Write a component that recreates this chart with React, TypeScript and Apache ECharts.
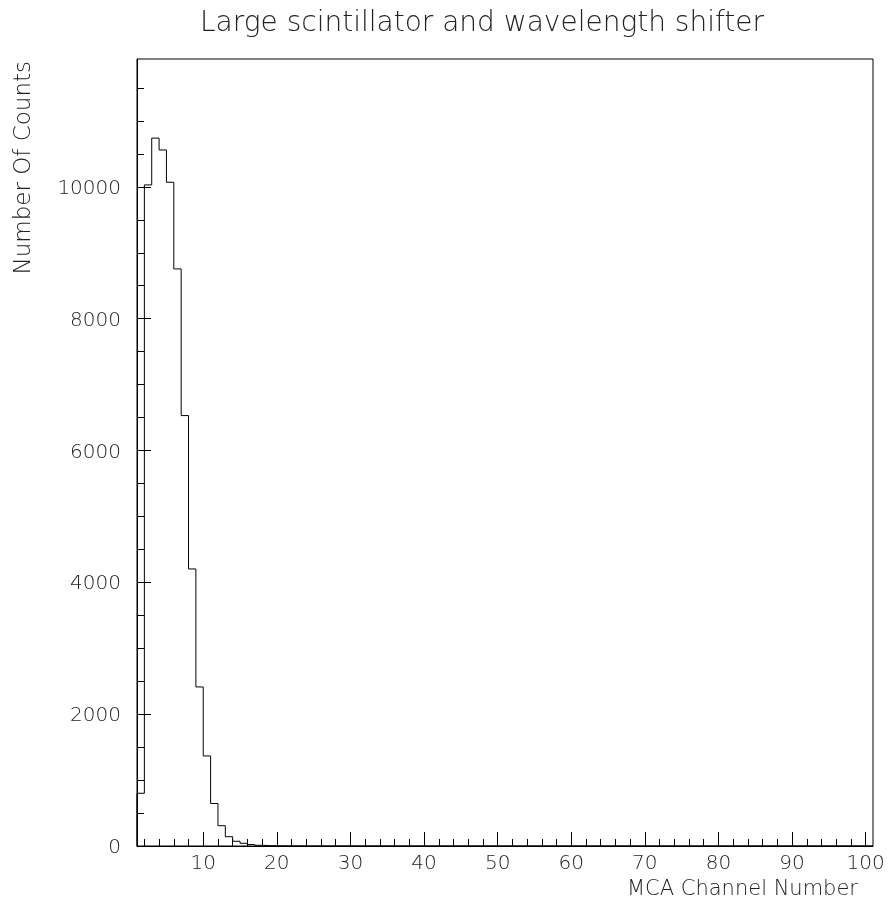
import React, { useEffect, useRef } from "react";
import * as echarts from "echarts";

const title = "Large scintillator and wavelength shifter";
const xTitle = "MCA Channel Number";
const yTitle = "Number Of Counts";

// histogram: 100 bins of width 1, from channel 1 to 101
const firstEdge = 1;
const counts = [
  800, 10030, 10740, 10560, 10070, 8755, 6530, 4203, 2413, 1366,
  645, 308, 141, 72, 41, 22, 11, 6, 3, 2,
  1, 1, 0, 0, 0, 0, 0, 0, 1, 0,
  0, 0, 0, 0, 0, 0, 0, 0, 0, 0,
  0, 0, 0, 0, 0, 0, 0, 0, 0, 0,
  0, 0, 0, 0, 0, 0, 0, 0, 0, 0,
  0, 0, 0, 0, 0, 0, 0, 0, 0, 0,
  0, 0, 0, 0, 0, 0, 0, 0, 0, 0,
  0, 0, 0, 0, 0, 0, 0, 0, 0, 0,
  0, 0, 0, 0, 0, 0, 0, 0, 0, 0,
];

const xMin = 1;
const xMax = 101;
const yMin = 0;
const yMax = 11940;

const xMajorTicks = [10, 20, 30, 40, 50, 60, 70, 80, 90, 100];
const xMinorTicks = [2, 4, 6, 8, 12, 14, 16, 18, 22, 24, 26, 28, 32, 34, 36, 38, 42, 44, 46, 48, 52, 54, 56, 58, 62, 64, 66, 68, 72, 74, 76, 78, 82, 84, 86, 88, 92, 94, 96, 98];
const yMajorTicks = [0, 2000, 4000, 6000, 8000, 10000];
const yMinorTicks = [500, 1000, 1500, 2500, 3000, 3500, 4500, 5000, 5500, 6500, 7000, 7500, 8500, 9000, 9500, 10500, 11000, 11500];

const FONT = "'DejaVu Sans'";
const TXT = "#222";

export default function App() {
  const ref = useRef<HTMLDivElement>(null);
  useEffect(() => {
    if (!ref.current) return;
    const chart = echarts.init(ref.current, null, { renderer: "svg" });
    const pts: number[][] = [[firstEdge, 0]];
    counts.forEach((c, i) => pts.push([firstEdge + i, c]));
    pts.push([firstEdge + counts.length, counts[counts.length - 1]]);

    const left = 137, right = 17, top = 59, bottom = 59;
    const plain = (v: number) => String(v);
    chart.setOption({
      animation: false,
      grid: {
        left, right, top, bottom,
        show: true,
        borderColor: "#000",
        borderWidth: 1,
        backgroundColor: "transparent",
      },
      xAxis: [
        {
          type: "value", min: xMin, max: xMax, position: "bottom",
          axisLine: { show: true, lineStyle: { color: "#000", width: 1 } },
          splitLine: { show: false },
          axisTick: { show: true, inside: true, length: 14, customValues: xMajorTicks, lineStyle: { color: "#000" } },
          axisLabel: { show: true, customValues: xMajorTicks, formatter: plain, margin: 6, color: TXT, fontFamily: FONT, fontSize: 20, fontWeight: 200 },
        },
        {
          type: "value", min: xMin, max: xMax, position: "bottom",
          axisLine: { show: false },
          splitLine: { show: false },
          axisTick: { show: true, inside: true, length: 7, customValues: xMinorTicks, lineStyle: { color: "#000" } },
          axisLabel: { show: false },
        },
      ],
      yAxis: [
        {
          type: "value", min: yMin, max: yMax, position: "left",
          axisLine: { show: true, lineStyle: { color: "#000", width: 1 } },
          splitLine: { show: false },
          axisTick: { show: true, inside: true, length: 14, customValues: yMajorTicks, lineStyle: { color: "#000" } },
          axisLabel: { show: true, customValues: yMajorTicks, formatter: plain, margin: 16, color: TXT, fontFamily: FONT, fontSize: 20, fontWeight: 200 },
        },
        {
          type: "value", min: yMin, max: yMax, position: "left",
          axisLine: { show: false },
          splitLine: { show: false },
          axisTick: { show: true, inside: true, length: 7, customValues: yMinorTicks, lineStyle: { color: "#000" } },
          axisLabel: { show: false },
        },
      ],
      series: [
        {
          type: "line",
          step: "end",
          data: pts,
          symbol: "none",
          lineStyle: { color: "#000", width: 1 },
          xAxisIndex: 0,
          yAxisIndex: 0,
          clip: true,
        },
      ],
      graphic: [
        {
          type: "text", x: 482, y: 21,
          style: { text: title, fill: TXT, font: `200 28px ${FONT}`, textAlign: "center", textVerticalAlign: "middle" },
        },
        {
          type: "text", x: 858, y: 888,
          style: { text: xTitle, fill: TXT, font: `200 21px ${FONT}`, textAlign: "right", textVerticalAlign: "middle" },
        },
        {
          type: "text", x: 22, y: 61, rotation: Math.PI / 2,
          style: { text: yTitle, fill: TXT, font: `200 23px ${FONT}`, textAlign: "right", textVerticalAlign: "middle" },
        },
      ],
    });
    return () => chart.dispose();
  }, []);
  return <div ref={ref} style={{ position: "fixed", left: 0, top: 0, width: 890, height: 905 }} />;
}
